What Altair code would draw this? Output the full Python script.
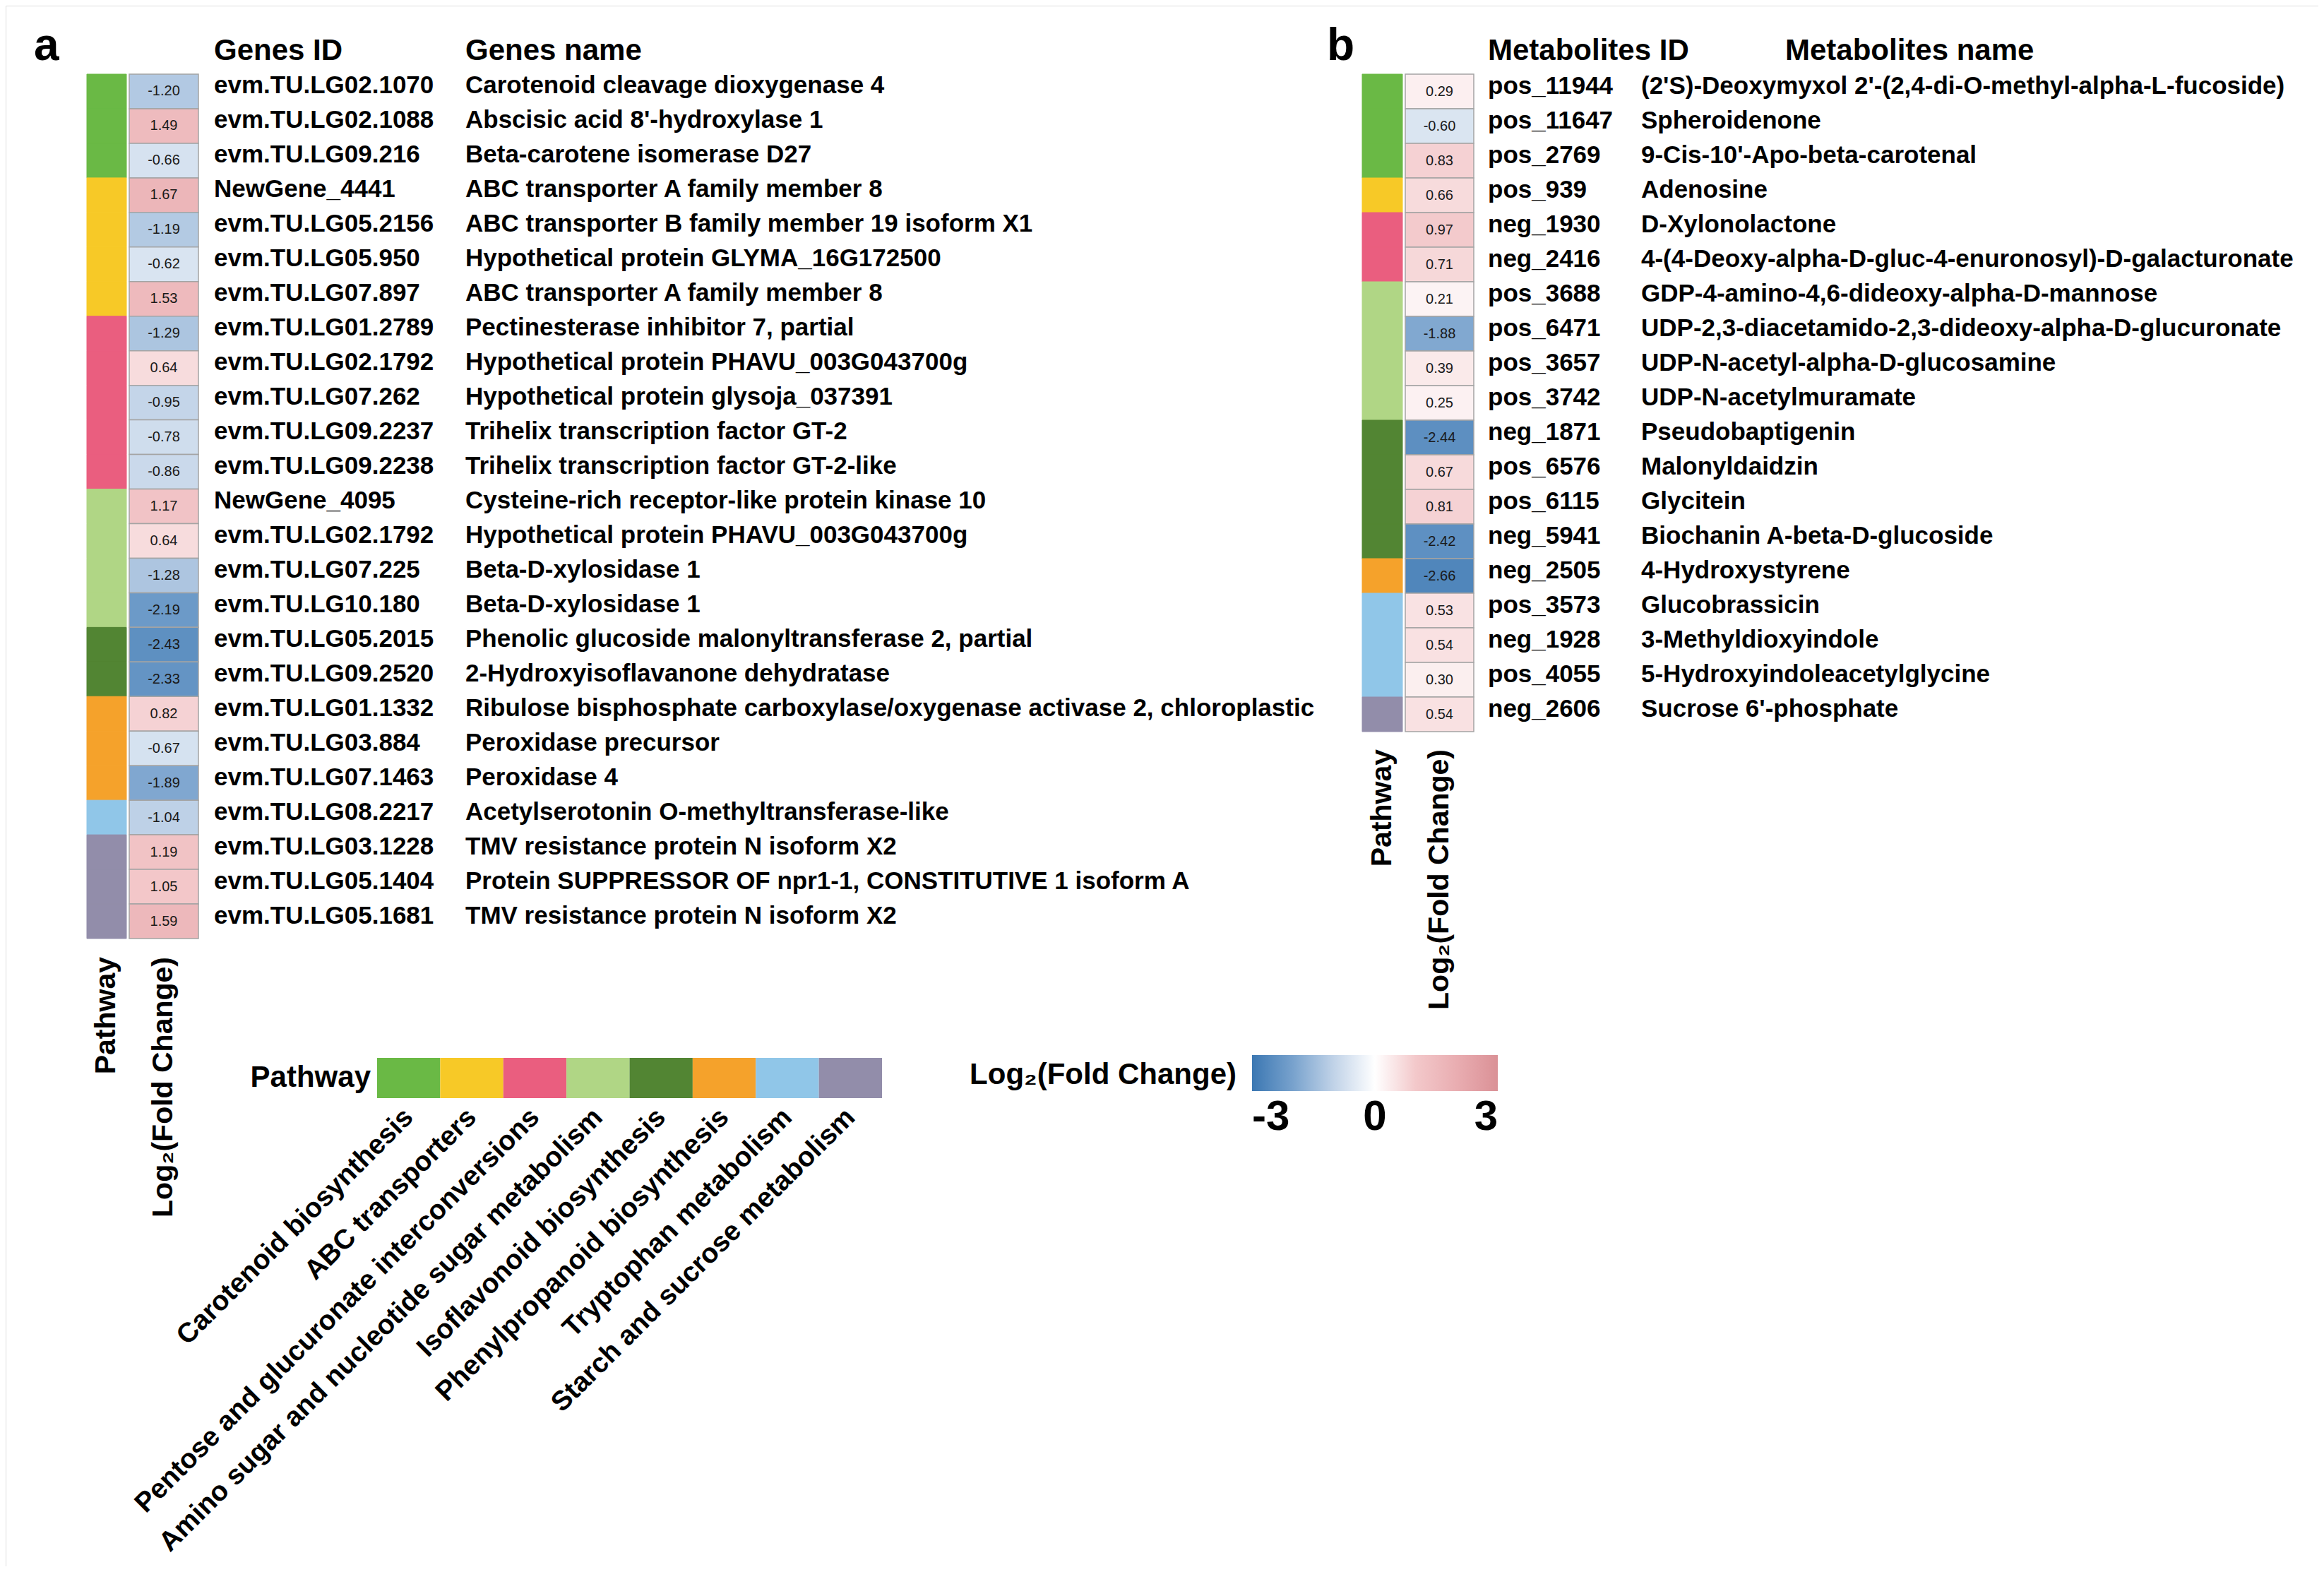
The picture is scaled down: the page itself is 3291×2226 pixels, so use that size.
import altair as alt
import pandas as pd

# ---------------- data ----------------
pathways = [
    "Carotenoid biosynthesis",
    "ABC transporters",
    "Pentose and glucuronate interconversions",
    "Amino sugar and nucleotide sugar metabolism",
    "Isoflavonoid biosynthesis",
    "Phenylpropanoid biosynthesis",
    "Tryptophan metabolism",
    "Starch and sucrose metabolism",
]
pathway_colors = ["#6ab945", "#f7c927", "#ea5e7f", "#b0d685",
                  "#528533", "#f5a22b", "#90c6e8", "#928daa"]

gene_ids = [
    "evm.TU.LG02.1070", "evm.TU.LG02.1088", "evm.TU.LG09.216", "NewGene_4441",
    "evm.TU.LG05.2156", "evm.TU.LG05.950", "evm.TU.LG07.897", "evm.TU.LG01.2789",
    "evm.TU.LG02.1792", "evm.TU.LG07.262", "evm.TU.LG09.2237", "evm.TU.LG09.2238",
    "NewGene_4095", "evm.TU.LG02.1792", "evm.TU.LG07.225", "evm.TU.LG10.180",
    "evm.TU.LG05.2015", "evm.TU.LG09.2520", "evm.TU.LG01.1332", "evm.TU.LG03.884",
    "evm.TU.LG07.1463", "evm.TU.LG08.2217", "evm.TU.LG03.1228", "evm.TU.LG05.1404",
    "evm.TU.LG05.1681",
]
gene_names = [
    "Carotenoid cleavage dioxygenase 4",
    "Abscisic acid 8'-hydroxylase 1",
    "Beta-carotene isomerase D27",
    "ABC transporter A family member 8",
    "ABC transporter B family member 19 isoform X1",
    "Hypothetical protein GLYMA_16G172500",
    "ABC transporter A family member 8",
    "Pectinesterase inhibitor 7, partial",
    "Hypothetical protein PHAVU_003G043700g",
    "Hypothetical protein glysoja_037391",
    "Trihelix transcription factor GT-2",
    "Trihelix transcription factor GT-2-like",
    "Cysteine-rich receptor-like protein kinase 10",
    "Hypothetical protein PHAVU_003G043700g",
    "Beta-D-xylosidase 1",
    "Beta-D-xylosidase 1",
    "Phenolic glucoside malonyltransferase 2, partial",
    "2-Hydroxyisoflavanone dehydratase",
    "Ribulose bisphosphate carboxylase/oxygenase activase 2, chloroplastic",
    "Peroxidase precursor",
    "Peroxidase 4",
    "Acetylserotonin O-methyltransferase-like",
    "TMV resistance protein N isoform X2",
    "Protein SUPPRESSOR OF npr1-1, CONSTITUTIVE 1 isoform A",
    "TMV resistance protein N isoform X2",
]
gene_fc = [-1.20, 1.49, -0.66, 1.67, -1.19, -0.62, 1.53, -1.29, 0.64, -0.95,
           -0.78, -0.86, 1.17, 0.64, -1.28, -2.19, -2.43, -2.33, 0.82, -0.67,
           -1.89, -1.04, 1.19, 1.05, 1.59]
gene_pathway = [0, 0, 0, 1, 1, 1, 1, 2, 2, 2, 2, 2, 3, 3, 3, 3, 4, 4, 5, 5, 5, 6, 7, 7, 7]

met_ids = [
    "pos_11944", "pos_11647", "pos_2769", "pos_939", "neg_1930", "neg_2416",
    "pos_3688", "pos_6471", "pos_3657", "pos_3742", "neg_1871", "pos_6576",
    "pos_6115", "neg_5941", "neg_2505", "pos_3573", "neg_1928", "pos_4055",
    "neg_2606",
]
met_names = [
    "(2'S)-Deoxymyxol 2'-(2,4-di-O-methyl-alpha-L-fucoside)",
    "Spheroidenone",
    "9-Cis-10'-Apo-beta-carotenal",
    "Adenosine",
    "D-Xylonolactone",
    "4-(4-Deoxy-alpha-D-gluc-4-enuronosyl)-D-galacturonate",
    "GDP-4-amino-4,6-dideoxy-alpha-D-mannose",
    "UDP-2,3-diacetamido-2,3-dideoxy-alpha-D-glucuronate",
    "UDP-N-acetyl-alpha-D-glucosamine",
    "UDP-N-acetylmuramate",
    "Pseudobaptigenin",
    "Malonyldaidzin",
    "Glycitein",
    "Biochanin A-beta-D-glucoside",
    "4-Hydroxystyrene",
    "Glucobrassicin",
    "3-Methyldioxyindole",
    "5-Hydroxyindoleacetylglycine",
    "Sucrose 6'-phosphate",
]
met_fc = [0.29, -0.60, 0.83, 0.66, 0.97, 0.71, 0.21, -1.88, 0.39, 0.25,
          -2.44, 0.67, 0.81, -2.42, -2.66, 0.53, 0.54, 0.30, 0.54]
met_pathway = [0, 0, 0, 1, 2, 2, 3, 3, 3, 3, 4, 4, 4, 4, 5, 6, 6, 6, 7]

fc_stops = [-3, -2, -1, 0, 1, 2, 3]
fc_colors = ["#3b77b2", "#78a2cd", "#c1d3e8", "#ffffff", "#f3c8ca", "#e9adb1", "#da9196"]
fc_legend_values = [-3, 0, 3]

FC_TITLE = "Log\u2082(Fold Change)"

# ---------------- tables ----------------
def make_table(ids, names, fc, pidx):
    return pd.DataFrame({
        "row": list(range(len(ids))),
        "id": ids,
        "name": names,
        "fc": fc,
        "label": [f"{v:.2f}" for v in fc],
        "pathway": [pathways[i] for i in pidx],
    })

genes = make_table(gene_ids, gene_names, gene_fc, gene_pathway)
mets = make_table(met_ids, met_names, met_fc, met_pathway)

FONT = "Liberation Sans"

pathway_scale = alt.Scale(domain=pathways, range=pathway_colors)


def band(rng):
    return alt.Scale(range=rng, paddingInner=0, paddingOuter=0)


def panel(df, x_path, x_fc, x_id, x_name, y_range, label_y, name_size,
          fc_legend=None):
    y = alt.Y("row:O", scale=band(y_range), axis=None)
    base = alt.Chart(df).transform_calculate(pcol="'Pathway'", fcol="'FC'")
    layers = []
    layers.append(base.mark_rect(strokeWidth=1).encode(
        x=alt.X("pcol:N", scale=band(x_path), axis=None),
        y=y,
        color=alt.Color("pathway:N", scale=pathway_scale, legend=None),
        stroke=alt.Stroke("pathway:N", scale=pathway_scale, legend=None),
    ))
    layers.append(base.mark_rect(stroke="#a4a4a4", strokeWidth=1.5).encode(
        x=alt.X("fcol:N", scale=band(x_fc), axis=None),
        y=y,
        color=alt.Color("fc:Q",
                        scale=alt.Scale(domain=fc_stops, range=fc_colors, interpolate="rgb"),
                        legend=fc_legend),
    ))
    layers.append(base.mark_text(font=FONT, fontSize=20, color="#1a1a1a",
                                 baseline="middle").encode(
        x=alt.X("fcol:N", scale=band(x_fc), axis=None),
        y=y,
        text="label:N",
    ))
    layers.append(base.mark_text(font=FONT, fontWeight="bold", fontSize=35,
                                 align="left", baseline="alphabetic", dy=3,
                                 color="black").encode(
        x=alt.value(x_id), y=y, text="id:N"))
    layers.append(base.mark_text(font=FONT, fontWeight="bold", fontSize=name_size,
                                 align="left", baseline="alphabetic", dy=3,
                                 color="black").encode(
        x=alt.value(x_name), y=y, text="name:N"))
    # rotated column captions under the two heat-map columns
    cap_p = alt.Chart(pd.DataFrame({"cap": ["Pathway"]}))
    layers.append(cap_p.mark_text(font=FONT, fontWeight="bold", fontSize=41,
                                  angle=270, align="right", baseline="middle").encode(
        x=alt.X("cap:N", scale=band(x_path), axis=None),
        y=alt.value(label_y), text="cap:N"))
    cap_f = alt.Chart(pd.DataFrame({"cap": [FC_TITLE]}))
    layers.append(cap_f.mark_text(font=FONT, fontWeight="bold", fontSize=41,
                                  angle=270, align="right", baseline="middle").encode(
        x=alt.X("cap:N", scale=band(x_fc), axis=None),
        y=alt.value(label_y), text="cap:N"))
    return layers


def label(text, x, y, size, align="left", baseline="alphabetic"):
    return alt.Chart(pd.DataFrame({"t": [text]})).mark_text(
        font=FONT, fontWeight="bold", fontSize=size, align=align,
        baseline=baseline, color="black").encode(
        x=alt.value(x), y=alt.value(y), text="t:N")


fc_legend = alt.Legend(
    orient="none", legendX=1765, legendY=1486, direction="horizontal",
    title=None, gradientLength=348, gradientThickness=51, gradientStrokeWidth=0,
    values=fc_legend_values, labelExpr="'' + datum.value",
    labelFont=FONT, labelFontWeight="bold",
    labelFontSize=60, labelColor="black", labelAlign="center", labelOffset=8,
    labelBaseline="top", padding=0,
)

layers = []
layers += panel(genes, [115, 171], [175, 273], 295, 651, [97, 1321], 1347,
                35, fc_legend)
layers += panel(mets, [1921, 1978], [1982, 2079], 2099, 2316, [97, 1028], 1053,
                35, None)

# headers and panel letters
layers += [
    label("a", 40, 77, 64),
    label("Genes ID", 295, 77, 42),
    label("Genes name", 651, 77, 42),
    label("b", 1871, 77, 64),
    label("Metabolites ID", 2099, 77, 42),
    label("Metabolites name", 2520, 77, 42),
]

# pathway legend (swatches + rotated names)
leg = alt.Chart(pd.DataFrame({"pathway": pathways})).transform_calculate(lg="'lg'")
layers.append(leg.mark_rect().encode(
    x=alt.X("pathway:N", sort=pathways, scale=band([526, 1241]), axis=None),
    y=alt.Y("lg:N", scale=band([1490, 1547]), axis=None),
    color=alt.Color("pathway:N", scale=pathway_scale, legend=None),
))
layers.append(leg.mark_text(font=FONT, fontWeight="bold", fontSize=39,
                            angle=315, align="right", baseline="middle",
                            color="black").encode(
    x=alt.X("pathway:N", sort=pathways, scale=band([526, 1241]), axis=None),
    y=alt.value(1568),
    text="pathway:N",
))
layers.append(label("Pathway", 517, 1518, 42, align="right", baseline="middle"))
layers.append(label(FC_TITLE, 1743, 1514, 42, align="right", baseline="middle"))

chart = alt.layer(*layers).resolve_scale(
    x="independent", y="independent", color="independent", stroke="independent"
).properties(
    width=3275, height=2210, padding=0,
    autosize=alt.AutoSizeParams(type="none"),
).configure_view(stroke=None).configure(background="white")

chart.save("out.html", embed_options={"renderer": "svg", "actions": False})
